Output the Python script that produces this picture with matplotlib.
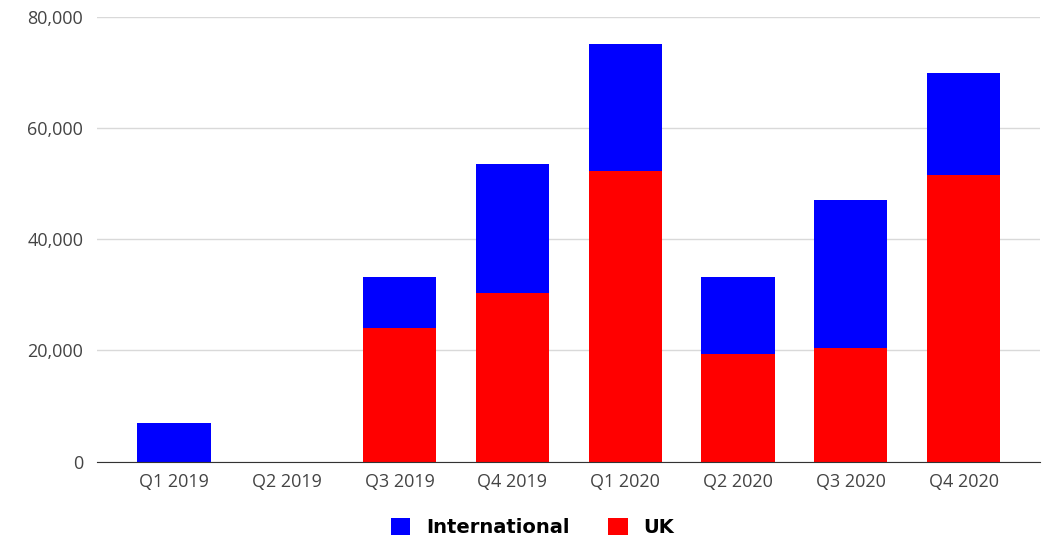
import numpy as np
import matplotlib.pyplot as plt
import matplotlib.ticker as ticker

quarters = ['Q1 2019', 'Q2 2019', 'Q3 2019', 'Q4 2019',
            'Q1 2020', 'Q2 2020', 'Q3 2020', 'Q4 2020']
uk = [0, 0, 24100, 30300, 52300, 19300, 20500, 51600]
international = [6900, 0, 9100, 23200, 22900, 13900, 26500, 18400]

fig = plt.figure(figsize=(10.48, 5.42), dpi=100)
ax = fig.add_axes([0.0926, 0.1485, 0.9, 0.82])

x = np.arange(len(quarters))
w = 0.65
ax.bar(x, uk, width=w, color='#ff0000', label='UK', zorder=3)
ax.bar(x, international, width=w, bottom=uk, color='#0000ff',
       label='International', zorder=3)

ax.set_xlim(-0.683, len(quarters) - 1 + 0.68)
ax.set_ylim(0, 80000)
ax.yaxis.set_major_locator(ticker.MultipleLocator(20000))
ax.yaxis.set_major_formatter(ticker.StrMethodFormatter('{x:,.0f}'))
ax.set_xticks(x)
ax.set_xticklabels(quarters)

ax.grid(axis='y', color='#d9d9d9', linewidth=1, zorder=0)
for s in ['top', 'right', 'left']:
    ax.spines[s].set_visible(False)
ax.spines['bottom'].set_color('#333333')
ax.spines['bottom'].set_zorder(4)
ax.tick_params(axis='both', length=0, labelsize=13, labelcolor='#444444',
               labelfontfamily='Open Sans')
ax.tick_params(axis='x', pad=8)
ax.tick_params(axis='y', pad=10)

handles, labels = ax.get_legend_handles_labels()
leg = fig.legend(handles[::-1], labels[::-1], loc='center', ncol=2,
                 bbox_to_anchor=(0.508, 0.027), frameon=False,
                 prop={'family': 'DejaVu Sans', 'weight': 'bold', 'size': 14},
                 handlelength=1.0, handleheight=1.0, handletextpad=0.8,
                 columnspacing=2.0)

fig.savefig('out.png', dpi=100)
